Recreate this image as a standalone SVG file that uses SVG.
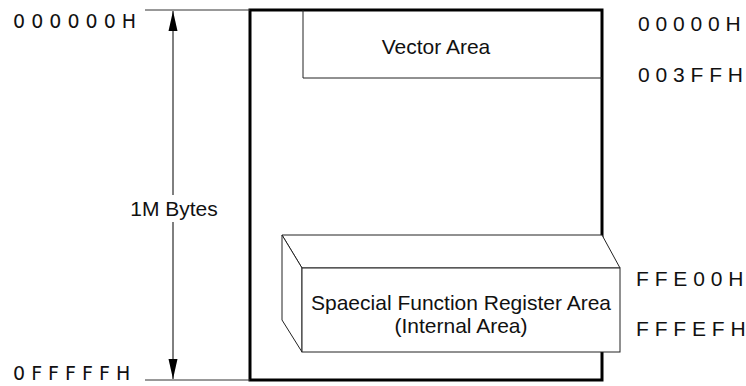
<svg xmlns="http://www.w3.org/2000/svg" width="746" height="386" viewBox="0 0 746 386">
<style>
text{font-family:"Liberation Sans",Arial,sans-serif;font-size:21px;fill:#111}
text.addr{font-family:"DejaVu Sans",Verdana,sans-serif;font-size:19px}
.thin{fill:none;stroke:#222;stroke-width:1}
.face{fill:#fff;stroke:#222;stroke-width:1;stroke-linejoin:miter}
</style>
<defs>
<marker id="ah2" viewBox="0 0 20 10" refX="20" refY="5" markerWidth="20" markerHeight="10" markerUnits="userSpaceOnUse" orient="auto">
<path d="M0,0.5 L20,5 L0,9.5 Z" fill="#000"/>
</marker>
</defs>
<rect x="0" y="0" width="746" height="386" fill="#fff"/>
<g id="memory">
<rect x="250" y="10" width="352" height="370" fill="#fff" stroke="#000" stroke-width="3"/>
</g>
<g id="vector-area">
<path class="thin" d="M303,10 V78 H602"/>
<text x="436" y="54" text-anchor="middle">Vector Area</text>
</g>
<g id="sfr-area">
<polygon class="face" points="282,235 602,235 620,268 302,268"/>
<polygon class="face" points="282,235 302,268 302,352 282,320"/>
<rect class="face" x="302" y="268" width="318" height="84"/>
<text x="461" y="310" text-anchor="middle">Spaecial Function Register Area</text>
<text x="461" y="333" text-anchor="middle">(Internal Area)</text>
</g>
<g id="connectors">
<line x1="145" y1="10" x2="250" y2="10" stroke="#333" stroke-width="1"/>
<line x1="145" y1="380" x2="250" y2="380" stroke="#333" stroke-width="1"/>
<line x1="173" y1="195" x2="173" y2="11" stroke="#000" stroke-width="1" marker-end="url(#ah2)"/>
<line x1="173" y1="222" x2="173" y2="379" stroke="#000" stroke-width="1" marker-end="url(#ah2)"/>
</g>
<g id="labels">
<text x="174" y="216" text-anchor="middle">1M Bytes</text>
<text class="addr" x="13" y="28">0 0 0 0 0 0 H</text>
<text class="addr" x="13" y="380">0 F F F F F H</text>
<text x="638" y="31">0 0 0 0 0 H</text>
<text x="638" y="82">0 0 3 F F H</text>
<text x="636" y="286">F F E 0 0 H</text>
<text x="636" y="336">F F F E F H</text>
</g>
</svg>
